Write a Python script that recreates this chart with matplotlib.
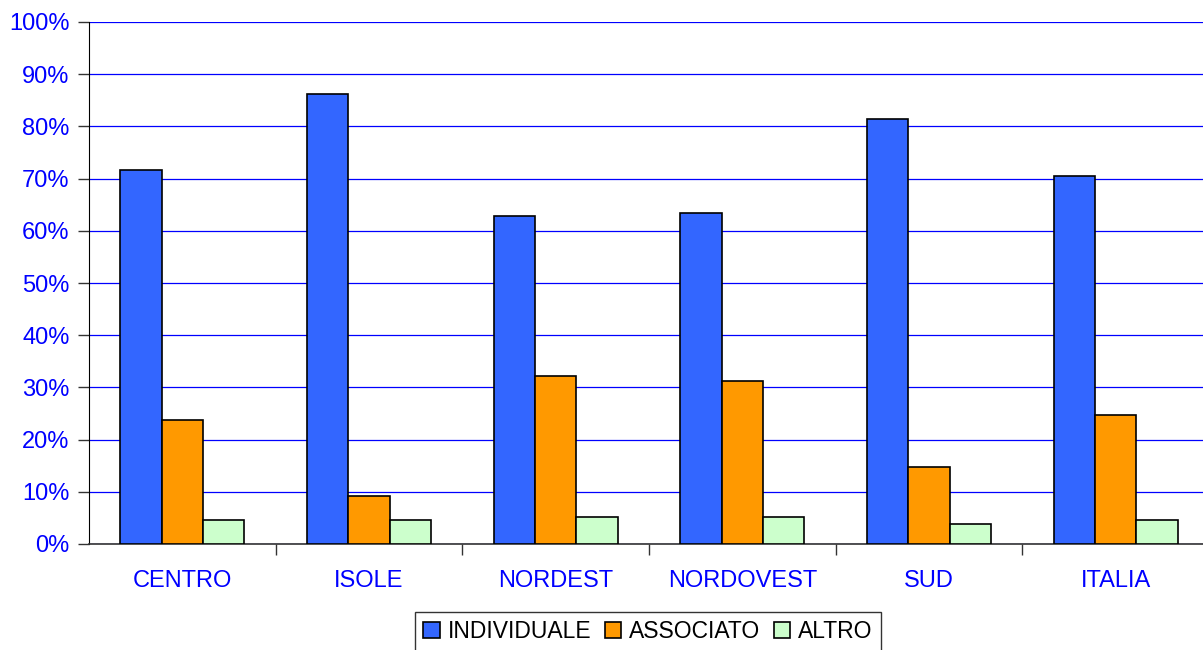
import matplotlib.pyplot as plt
import numpy as np
from matplotlib.ticker import FuncFormatter

plt.rcParams['font.family'] = ['Liberation Sans', 'DejaVu Sans']

categories = ["CENTRO", "ISOLE", "NORDEST", "NORDOVEST", "SUD", "ITALIA"]
individuale = [71.6, 86.2, 62.9, 63.5, 81.4, 70.5]
associato = [23.7, 9.2, 32.2, 31.3, 14.8, 24.8]
altro = [4.6, 4.6, 5.2, 5.2, 3.8, 4.6]
series_names = ["INDIVIDUALE", "ASSOCIATO", "ALTRO"]
colors = ["#3366FF", "#FF9900", "#CCFFCC"]

fig = plt.figure(figsize=(12.03, 6.5), dpi=100)
ax = fig.add_axes([89 / 1203, 106 / 650, 1120 / 1203, 522 / 650])

x = np.arange(len(categories))
w = 0.222
for i, (vals, name, c) in enumerate(zip([individuale, associato, altro], series_names, colors)):
    ax.bar(x + (i - 1) * w, vals, width=w, color=c, edgecolor="black",
           linewidth=1.2, label=name, zorder=3)

ax.set_xlim(-0.5, len(categories) - 0.5)
ax.set_ylim(0, 100)
ax.set_yticks(np.arange(0, 101, 10))
ax.yaxis.set_major_formatter(FuncFormatter(lambda v, p: f"{int(v)}%"))
ax.grid(axis="y", color="#0000FF", linewidth=0.9, zorder=0)
ax.set_axisbelow(True)

ax.set_xticks(x)
ax.set_xticklabels(categories)
ax.set_xticks(np.arange(0.5, len(categories) - 0.5, 1), minor=True)
ax.tick_params(axis="x", which="major", length=0, pad=19, labelsize=17, labelcolor="#0000FF")
ax.tick_params(axis="x", which="minor", length=8, width=1, color="#333333", direction="out")
ax.tick_params(axis="y", length=8, width=1, color="#333333", labelsize=17,
               labelcolor="#0000FF", pad=6)

for s in ["top", "right"]:
    ax.spines[s].set_visible(False)
ax.spines["left"].set_color("black")
ax.spines["bottom"].set_color("#333333")
ax.spines["bottom"].set_linewidth(1.2)

leg = fig.legend(loc="upper center", bbox_to_anchor=(648 / 1203, 1 - 612 / 650), ncol=3,
                 fontsize=16.5, frameon=True, fancybox=False, edgecolor="black",
                 handlelength=0.7, handleheight=0.7, handletextpad=0.35,
                 columnspacing=0.6, borderpad=0.35, borderaxespad=0)
leg.get_frame().set_linewidth(1.0)

fig.savefig("out.png", dpi=100)
